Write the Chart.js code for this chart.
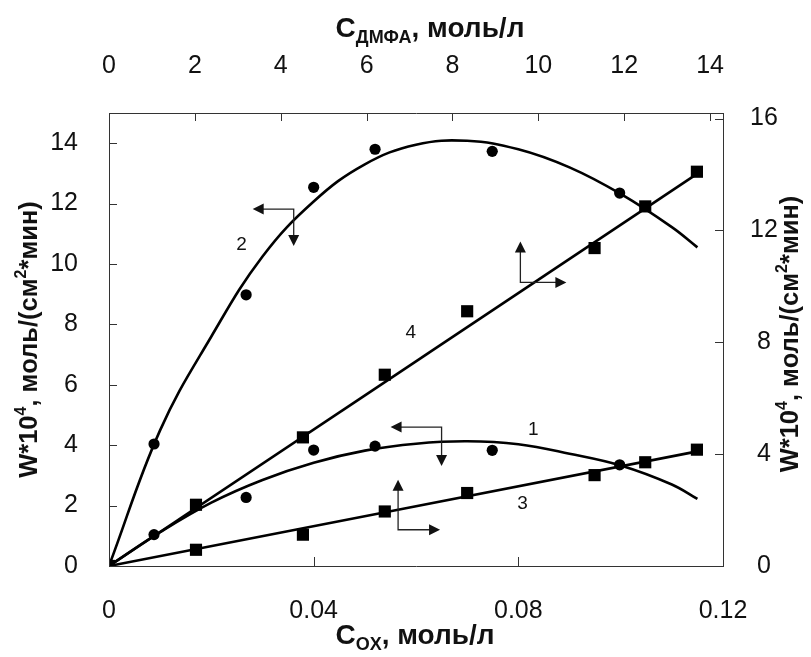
<!DOCTYPE html>
<html>
<head>
<meta charset="utf-8">
<script src="https://cdn.jsdelivr.net/npm/chart.js@4/dist/chart.umd.min.js"></script>
<style>
  html, body { margin: 0; padding: 0; background: #ffffff; }
  #wrap { width: 811px; height: 657px; }
</style>
</head>
<body>
<div id="wrap"><canvas id="chart" width="811" height="657"></canvas></div>
<script>
// Measured points: oxidant concentration C_OX, mol/l
const cOxRound = [0, 0.0088, 0.0268, 0.0400, 0.0520, 0.0749, 0.0998];
const rate1 = [0, 1.04, 2.27, 3.84, 3.97, 3.83, 3.35];      // curve 1, left axis
const rate2 = [0, 4.04, 8.98, 12.54, 13.80, 13.73, 12.35];  // curve 2, left axis

const cOxSquare = [0, 0.0170, 0.0379, 0.0539, 0.0700, 0.0949, 0.1048, 0.1149];
const rate3 = [0, 0.58, 1.12, 1.95, 2.61, 3.25, 3.71, 4.16];          // line 3, right axis
const rate4 = [0, 2.19, 4.60, 6.84, 9.11, 11.37, 12.86, 14.10];       // line 4, right axis

// Fitted curves
const fitX = [0, 0.01, 0.02, 0.03, 0.04, 0.05, 0.06, 0.07, 0.08, 0.09, 0.10, 0.11, 0.115];
const fit1Y = [0, 1.12, 2.10, 2.85, 3.42, 3.82, 4.05, 4.13, 4.03, 3.72, 3.33, 2.70, 2.22];
const fit2Y = [0, 4.50, 7.60, 10.25, 12.07, 13.30, 13.95, 14.08, 13.80, 13.20, 12.32, 11.22, 10.55];
const fit3X = [0, 0.1150];
const fit3Y = [0, 4.10];
const fit4X = [0, 0.1150];
const fit4Y = [0, 14.03];

// Tick values
const ticksOx = [0, 0.04, 0.08, 0.12];
const ticksDmfa = [0, 2, 4, 6, 8, 10, 12, 14];
const ticksLeft = [0, 2, 4, 6, 8, 10, 12, 14];
const ticksRight = [0, 4, 8, 12, 16];

// Curve numbers and the arrows pointing to each curve's axis
const curveNames = ['1', '2', '3', '4'];
const nameAt = [[0.0829, 4.51], [0.0259, 10.64], [0.0808, 2.06], [0.0590, 7.71]];
const arrowCorner = [[0.0650, 4.60], [0.0361, 11.82], [0.0565, 1.20], [0.0804, 9.39]];

const pts = (xs, ys) => xs.map((x, i) => ({ x, y: ys[i] }));

const TICK_FONT = { family: '"Liberation Sans", Arial, sans-serif', size: 25 };
const INK = '#111111';

function keepTicks(list) {
  return scale => { scale.ticks = list.map(v => ({ value: v })); };
}

// Inward tick marks on all four sides
const innerTicks = {
  id: 'innerTicks',
  afterDraw(chart) {
    const { ctx, scales } = chart;
    const a = chart.chartArea;
    ctx.save();
    ctx.strokeStyle = '#333333';
    ctx.lineWidth = 1;
    ctx.beginPath();
    ticksOx.forEach(v => { const p = Math.round(scales.x.getPixelForValue(v)) + 0.5; ctx.moveTo(p, a.bottom); ctx.lineTo(p, a.bottom - 9); });
    ticksDmfa.forEach(v => { const p = Math.round(scales.x2.getPixelForValue(v)) + 0.5; ctx.moveTo(p, a.top); ctx.lineTo(p, a.top + 8); });
    ticksLeft.forEach(v => { const p = Math.round(scales.y.getPixelForValue(v)) + 0.5; ctx.moveTo(a.left, p); ctx.lineTo(a.left + 8, p); });
    ticksRight.forEach(v => { const p = Math.round(scales.y2.getPixelForValue(v)) + 0.5; ctx.moveTo(a.right, p); ctx.lineTo(a.right - 8, p); });
    ctx.stroke();
    ctx.restore();
  }
};

// Text with subscripts / superscripts
function richText(ctx, parts, cx, cy, size, rotate, ratio) {
  const font = s => `bold ${s}px "Liberation Sans", Arial, sans-serif`;
  const small = Math.round(size * ratio);
  let total = 0;
  parts.forEach(p => { ctx.font = font(p[1] ? small : size); total += ctx.measureText(p[0]).width; });
  ctx.save();
  ctx.translate(cx, cy);
  if (rotate) ctx.rotate(-Math.PI / 2);
  ctx.fillStyle = INK;
  ctx.textBaseline = 'alphabetic';
  ctx.textAlign = 'left';
  let x = -total / 2;
  const base = size * 0.36;
  parts.forEach(p => {
    const s = p[1] ? small : size;
    ctx.font = font(s);
    let dy = 0;
    if (p[1] === 'sub') dy = size * 0.2;
    if (p[1] === 'sup') dy = -size * 0.42;
    ctx.fillText(p[0], x, base + dy);
    x += ctx.measureText(p[0]).width;
  });
  ctx.restore();
}

const axisTitles = {
  id: 'axisTitles',
  afterDraw(chart) {
    const { ctx } = chart;
    const a = chart.chartArea;
    const wTitle = [['W*10'], ['4', 'sup'], [', моль/(см'], ['2', 'sup'], ['*мин)']];
    richText(ctx, [['C'], ['ДМФА', 'sub'], [', моль/л']], 430, 27, 28, false, 0.66);
    richText(ctx, [['C'], ['OX', 'sub'], [', моль/л']], 415, 634, 28, false, 0.66);
    richText(ctx, wTitle, 28, (a.top + a.bottom) / 2, 25.5, true, 0.62);
    richText(ctx, wTitle, 789, 334, 25.5, true, 0.62);
  }
};

// Curve numbers and L-shaped arrows
const annotations = {
  id: 'annotations',
  afterDatasetsDraw(chart) {
    const { ctx, scales } = chart;
    const px = v => scales.x.getPixelForValue(v);
    const py = v => scales.y.getPixelForValue(v);
    ctx.save();
    ctx.fillStyle = INK;
    ctx.font = '19px "Liberation Sans", Arial, sans-serif';
    ctx.textAlign = 'center';
    ctx.textBaseline = 'middle';
    curveNames.forEach((n, i) => ctx.fillText(n, px(nameAt[i][0]), py(nameAt[i][1])));

    const head = (x, y, dx, dy) => {
      const L = 11, H = 5.5;
      ctx.beginPath();
      ctx.moveTo(x, y);
      ctx.lineTo(x - dx * L - dy * H, y - dy * L + dx * H);
      ctx.lineTo(x - dx * L + dy * H, y - dy * L - dx * H);
      ctx.closePath();
      ctx.fill();
    };
    // [horizontal direction, horizontal length, vertical direction, vertical length]
    const shapes = [[-1, 51, 1, 39], [-1, 41, 1, 37], [1, 42, -1, 50], [1, 46, -1, 41]];
    ctx.strokeStyle = '#222222';
    ctx.lineWidth = 1.3;
    arrowCorner.forEach((c, i) => {
      const x = px(c[0]), y = py(c[1]);
      const [hd, hl, vd, vl] = shapes[i];
      const hx = x + hd * hl, vy = y + vd * vl;
      ctx.beginPath();
      ctx.moveTo(hx - hd * 8, y); ctx.lineTo(x, y); ctx.lineTo(x, vy - vd * 8);
      ctx.stroke();
      head(hx, y, hd, 0);
      head(x, vy, 0, vd);
    });
    ctx.restore();
  }
};

const lineSet = (data, axis) => ({
  type: 'line', data, yAxisID: axis, showLine: true,
  borderColor: '#000000', borderWidth: 2.6, pointRadius: 0,
  tension: 0.4, fill: false, order: 2
});
const markSet = (data, axis, style, r) => ({
  type: 'scatter', data, yAxisID: axis, showLine: false,
  pointStyle: style, pointRadius: r, pointBackgroundColor: '#000000',
  pointBorderWidth: 0, order: 1
});

new Chart(document.getElementById('chart'), {
  type: 'scatter',
  data: {
    datasets: [
      lineSet(pts(fitX, fit1Y), 'y'),
      lineSet(pts(fitX, fit2Y), 'y'),
      lineSet(pts(fit3X, fit3Y), 'y2'),
      lineSet(pts(fit4X, fit4Y), 'y2'),
      markSet(pts(cOxRound, rate1), 'y', 'circle', 5.6),
      markSet(pts(cOxRound, rate2), 'y', 'circle', 5.6),
      markSet(pts(cOxSquare, rate3), 'y2', 'rect', 8.6),
      markSet(pts(cOxSquare, rate4), 'y2', 'rect', 8.6)
    ]
  },
  options: {
    responsive: false,
    animation: false,
    devicePixelRatio: 1,
    layout: { padding: 0 },
    plugins: { legend: { display: false }, tooltip: { enabled: false } },
    scales: {
      x: {
        type: 'linear', position: 'bottom', min: 0, max: 0.12,
        afterBuildTicks: keepTicks(ticksOx),
        afterFit: s => { s.height = 91; },
        grid: { display: false },
        border: { display: true, color: '#333333', width: 1 },
        ticks: { font: TICK_FONT, color: INK, padding: 22, maxRotation: 0,
                 callback: v => (v === 0 ? '0' : v.toFixed(2)) }
      },
      x2: {
        type: 'linear', position: 'top', min: 0, max: 14.3,
        afterBuildTicks: keepTicks(ticksDmfa),
        afterFit: s => { s.height = 113; },
        grid: { display: false },
        border: { display: true, color: '#333333', width: 1 },
        ticks: { font: TICK_FONT, color: INK, padding: 24, maxRotation: 0 }
      },
      y: {
        type: 'linear', position: 'left', min: 0, max: 15,
        afterBuildTicks: keepTicks(ticksLeft),
        afterFit: s => { s.width = 109; },
        grid: { display: false },
        border: { display: true, color: '#333333', width: 1 },
        ticks: { font: TICK_FONT, color: INK, padding: 23 }
      },
      y2: {
        type: 'linear', position: 'right', min: 0, max: 16.2,
        afterBuildTicks: keepTicks(ticksRight),
        afterFit: s => { s.width = 88; },
        grid: { display: false },
        border: { display: true, color: '#333333', width: 1 },
        ticks: { font: TICK_FONT, color: INK, padding: 19, crossAlign: 'center' }
      }
    }
  },
  plugins: [innerTicks, axisTitles, annotations]
});
</script>
</body>
</html>
